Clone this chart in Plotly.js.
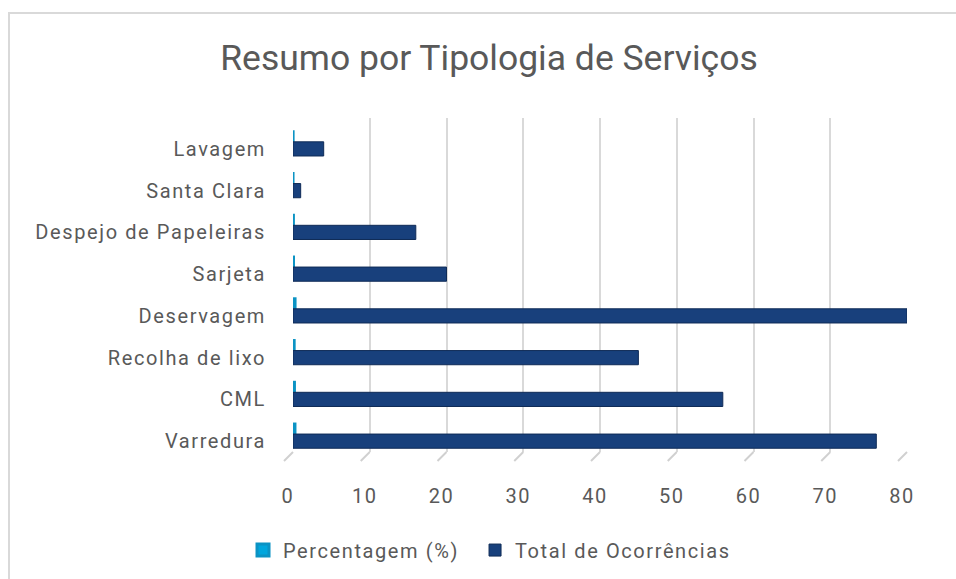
<!DOCTYPE html>
<html>
<head>
<meta charset="utf-8">
<script src="https://cdn.plot.ly/plotly-3.0.1.min.js"></script>
<style>
  html, body { margin: 0; padding: 0; background: #ffffff; }
  #wrap { position: relative; width: 956px; height: 579px; overflow: hidden; }
  #chart { position: absolute; left: 0; top: 0; width: 956px; height: 579px; }
  #frame { position: absolute; left: 8px; top: 12px; width: 960px; height: 600px;
           border-left: 2px solid #d9d9d9; border-top: 2px solid #d9d9d9; pointer-events: none; }
  svg text { letter-spacing: 1.6px; }
  svg text.gtitle { letter-spacing: 0px; }
</style>
</head>
<body>
<div id="wrap">
  <div id="chart"></div>
  <div id="frame"></div>
</div>
<script>
// ---- data ----
const categories = ["Varredura", "CML", "Recolha de lixo", "Deservagem", "Sarjeta",
                    "Despejo de Papeleiras", "Santa Clara", "Lavagem"];
const totalOcorrencias = [76, 56, 45, 80, 20, 16, 1, 4];
const percentagem = [0.255, 0.188, 0.151, 0.268, 0.067, 0.054, 0.003, 0.013];
const tickVals = [0, 10, 20, 30, 40, 50, 60, 70, 80];
const seriesNames = ["Percentagem (%)", "Total de Ocorrências"];
const chartTitle = "Resumo por Tipologia de Serviços";

const textColor = "#595959";
const fontFamily = "Roboto, 'Noto Sans', sans-serif";
const xMin = 0, xMax = 80;

const W = 956, H = 579;
const M = { l: 293, r: 49, t: 118, b: 127 };
const plotW = W - M.l - M.r, plotH = H - M.t - M.b;
const depth = 9; // px of the 3D floor slant

const traces = [
  {
    type: "bar", orientation: "h", name: seriesNames[0],
    y: categories, x: percentagem,
    width: 0.29, offset: -0.12,
    marker: { color: "#00a6dd", line: { color: "#0b93c4", width: 3 } },
    hoverinfo: "x+y", legend: "legend"
  },
  {
    type: "bar", orientation: "h", name: seriesNames[1],
    y: categories, x: totalOcorrencias,
    width: 0.34, offset: -0.41,
    marker: { color: "#18407c", line: { color: "#0f2b57", width: 1 } },
    hoverinfo: "x+y", legend: "legend2"
  }
];

// slanted floor tick marks (3D look) at each x tick
const shapes = tickVals.map(v => {
  const px = (v - xMin) / (xMax - xMin);
  return {
    type: "line", layer: "above",
    xref: "paper", yref: "paper",
    x0: px, y0: 0, x1: px - depth / plotW, y1: -depth / plotH,
    line: { color: "#d0d0d0", width: 2 }
  };
});

const legendFont = { size: 20, color: textColor, family: fontFamily };

const layout = {
  width: W, height: H,
  paper_bgcolor: "rgba(0,0,0,0)", plot_bgcolor: "rgba(0,0,0,0)",
  margin: M,
  barmode: "overlay",
  font: { family: fontFamily, color: textColor, size: 20 },
  title: {
    text: chartTitle,
    font: { family: fontFamily, size: 35.5, color: textColor },
    xref: "container", x: 0.5115, xanchor: "center",
    yref: "container", y: 0.9, yanchor: "middle"
  },
  xaxis: {
    range: [xMin, xMax], tickvals: tickVals, ticktext: tickVals.map(String),
    showgrid: true, gridcolor: "#d9d9d9", gridwidth: 2,
    zeroline: false, showline: false, ticks: "",
    ticklabelstandoff: 30, ticklabelshift: -5,
    tickfont: { size: 20, color: textColor, family: fontFamily },
    fixedrange: true
  },
  yaxis: {
    type: "category", categoryorder: "array", categoryarray: categories,
    range: [-0.5, 7.5],
    showgrid: false, zeroline: false, showline: false, ticks: "",
    ticklabelstandoff: 26, ticklabelshift: 10,
    tickfont: { size: 20, color: textColor, family: fontFamily },
    fixedrange: true
  },
  shapes: shapes,
  showlegend: true,
  legend: {
    orientation: "h", bgcolor: "rgba(0,0,0,0)",
    xref: "container", x: 0.2542, xanchor: "left",
    yref: "container", y: 0.05, yanchor: "middle",
    font: legendFont, itemwidth: 30
  },
  legend2: {
    orientation: "h", bgcolor: "rgba(0,0,0,0)",
    xref: "container", x: 0.4969, xanchor: "left",
    yref: "container", y: 0.05, yanchor: "middle",
    font: legendFont, itemwidth: 30
  },
  hovermode: false
};

Plotly.newPlot("chart", traces, layout, { displayModeBar: false, staticPlot: true }).then(gd => {
  gd.querySelectorAll(".legend .scrollbox, .legend2 .scrollbox, [class^='legend'] .scrollbox")
    .forEach(el => el.removeAttribute("clip-path"));
});
</script>
</body>
</html>
